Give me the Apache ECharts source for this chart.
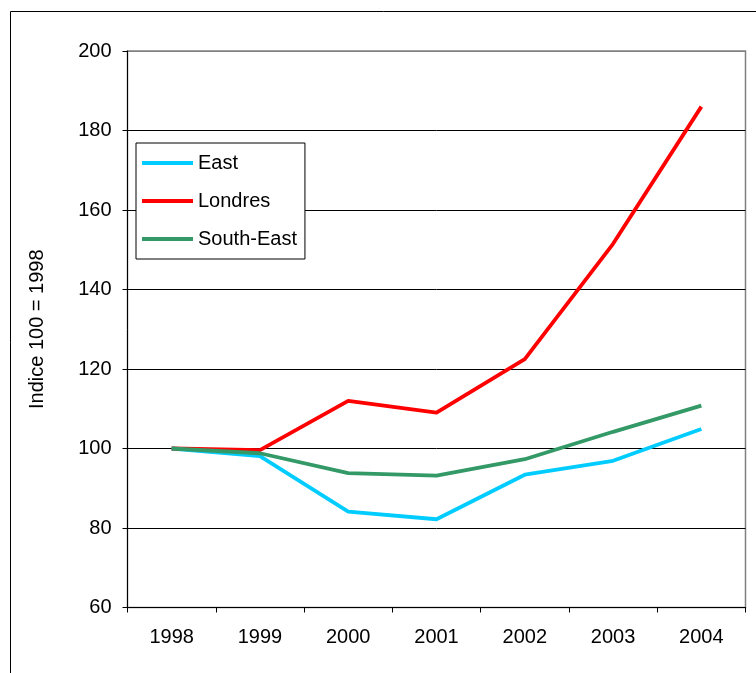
<!DOCTYPE html>
<html>
<head>
<meta charset="utf-8">
<script src="https://cdn.jsdelivr.net/npm/echarts@6/dist/echarts.min.js"></script>
<style>
  html, body { margin: 0; padding: 0; background: #fff; }
  #chart { width: 756px; height: 673px; }
</style>
</head>
<body>
<div id="chart"></div>
<script>
// données
const years = ['1998', '1999', '2000', '2001', '2002', '2003', '2004']
const east = [100, 98.1, 84.1, 82.2, 93.4, 96.9, 104.9]
const londres = [100, 99.6, 112, 109, 122.5, 151.5, 186]
const southEast = [100, 98.8, 93.8, 93.2, 97.3, 104.2, 110.8]

const font = '"Liberation Sans", Arial, sans-serif'

const myChart = echarts.init(document.getElementById('chart'))

const mkLine = (name, data, color) => ({
    name: name,
    type: 'line',
    data: data,
    symbol: 'none',
    smooth: false,
    lineStyle: { color: color, width: 3.8 },
    itemStyle: { color: color }
})

const option = {
    animation: false,
    backgroundColor: '#fff',
    textStyle: { fontFamily: font, color: '#000' },
    graphic: [{
        type: 'rect',
        shape: { x: 10.5, y: 11.5, width: 800, height: 700 },
        style: { fill: 'none', stroke: '#000', lineWidth: 1 },
        z: -1
    }],
    grid: {
        left: 127.5,
        top: 51,
        right: 10.5,
        bottom: 65.5,
        show: true,
        borderColor: '#808080',
        borderWidth: 1.5
    },
    legend: {
        orient: 'vertical',
        left: 136,
        top: 143,
        padding: [10, 8, 10, 6],
        itemGap: 18,
        itemWidth: 51,
        itemHeight: 4,
        icon: 'rect',
        borderColor: '#000',
        borderWidth: 1,
        borderRadius: 0,
        backgroundColor: '#fff',
        textStyle: { fontFamily: font, fontSize: 20, color: '#000' },
        data: ['East', 'Londres', 'South-East']
    },
    xAxis: {
        type: 'category',
        data: years,
        boundaryGap: true,
        axisLine: { lineStyle: { color: '#000', width: 1 } },
        axisTick: { show: true, length: 5, lineStyle: { color: '#000' } },
        axisLabel: { fontFamily: font, fontSize: 20, color: '#000', margin: 20 }
    },
    yAxis: {
        type: 'value',
        min: 60,
        max: 200,
        interval: 20,
        name: 'Indice 100 = 1998',
        nameLocation: 'middle',
        nameGap: 80,
        nameTextStyle: { fontFamily: font, fontSize: 20, color: '#000' },
        axisLine: { show: true, lineStyle: { color: '#000', width: 1 } },
        axisTick: { show: true, length: 5, lineStyle: { color: '#000' } },
        axisLabel: { fontFamily: font, fontSize: 20, color: '#000', margin: 16 },
        // la ligne du haut (200) reste grise comme le cadre
        splitLine: { show: true, lineStyle: { color: ['#000', '#000', '#000', '#000', '#000', '#000', '#000', '#808080'], width: 1 } }
    },
    series: [
        mkLine('East', east, '#00CCFF'),
        mkLine('Londres', londres, '#FF0000'),
        mkLine('South-East', southEast, '#339966')
    ]
}

myChart.setOption(option, true)
</script>
</body>
</html>
